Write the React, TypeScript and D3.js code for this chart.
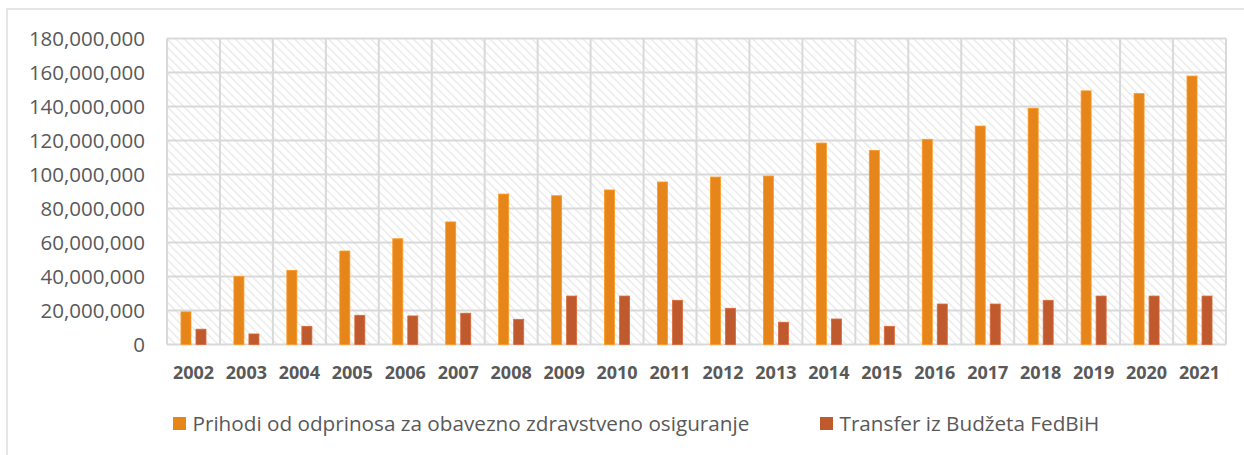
import * as d3 from "d3";
import React from "react";

// values (BAM)
const years = ["2002", "2003", "2004", "2005", "2006", "2007", "2008", "2009", "2010", "2011",
  "2012", "2013", "2014", "2015", "2016", "2017", "2018", "2019", "2020", "2021"];
const prihodi = [19.2, 40.0, 43.6, 55.0, 62.2, 72.1, 88.5, 87.5, 90.9, 95.6,
  98.5, 99.1, 118.5, 114.2, 120.7, 128.5, 139.0, 149.2, 147.6, 157.9].map((v) => v * 1e6);
const transfer = [9.0, 6.2, 10.7, 17.2, 16.8, 18.4, 14.8, 28.5, 28.5, 26.0,
  21.3, 13.1, 15.0, 10.7, 23.8, 23.8, 26.0, 28.5, 28.5, 28.5].map((v) => v * 1e6);
const yTicks = [0, 20e6, 40e6, 60e6, 80e6, 100e6, 120e6, 140e6, 160e6, 180e6];
const seriesNames = ["Prihodi od odprinosa za obavezno zdravstveno osiguranje", "Transfer iz Budžeta FedBiH"];
const seriesColors = ["#E6851A", "#BE5A2E"];

const W = 1244;
const H = 455;
const margin = { top: 38.5, right: 18, bottom: 110.5, left: 167 };
const font = "'Open Sans', sans-serif";
const textColor = "#595959";
const gridColor = "#d9d9d9";

export default function App() {
  const x = d3.scaleBand<string>().domain(years).range([margin.left, W - margin.right]).padding(0);
  const inner = d3.scaleBand<number>().domain([0, 1]).range([0, x.bandwidth()])
    .paddingInner(1 / 3).paddingOuter(0.93);
  const y = d3.scaleLinear().domain([0, 180e6]).range([H - margin.bottom, margin.top]);
  const fmt = d3.format(",");
  const series = [prihodi, transfer];
  const x0 = margin.left;
  const x1 = W - margin.right;
  const y0 = y(0);
  const yTop = y(180e6);

  return (
    <svg width={W} height={H} style={{ position: "absolute", left: 0, top: 0, background: "#fff" }}>
      <defs>
        <pattern id="hatch" width="6" height="6" patternUnits="userSpaceOnUse" patternTransform="rotate(-45)">
          <rect width="6" height="6" fill="#ffffff" />
          <line x1="0" y1="0" x2="0" y2="6" stroke="#e8e8e8" strokeWidth="2.6" />
        </pattern>
      </defs>
      {/* chart frame */}
      <rect x={7} y={9} width={W} height={H} fill="none" stroke={gridColor} strokeWidth={1.3} />

      {/* plot area */}
      <rect x={x0} y={yTop} width={x1 - x0} height={y0 - yTop} fill="url(#hatch)" />
      {yTicks.map((t) => (
        <line key={"h" + t} x1={x0} x2={x1} y1={y(t)} y2={y(t)} stroke={gridColor} strokeWidth={2} />
      ))}
      {years.map((yr) => (
        <line key={"v" + yr} x1={x(yr)!} x2={x(yr)!} y1={yTop} y2={y0} stroke={gridColor} strokeWidth={2} />
      ))}
      <line x1={x1} x2={x1} y1={yTop} y2={y0} stroke={gridColor} strokeWidth={2} />

      {/* bars */}
      {series.map((vals, si) =>
        vals.map((v, i) => (
          <rect
            key={si + "-" + i}
            x={x(years[i])! + inner(si)!}
            y={y(v)}
            width={inner.bandwidth()}
            height={y0 - y(v)}
            fill={seriesColors[si]}
            stroke={d3.color(seriesColors[si])!.brighter(0.4).formatHex()}
            strokeWidth={0.8}
          />
        ))
      )}

      {/* y axis labels */}
      {yTicks.map((t) => (
        <text key={"yl" + t} x={145} y={y(t)} dy="0.35em" textAnchor="end"
          fontFamily={font} fontSize={20.5} fill={textColor}>
          {fmt(t)}
        </text>
      ))}

      {/* x axis labels */}
      {years.map((yr) => (
        <text key={"xl" + yr} x={x(yr)! + x.bandwidth() / 2} y={373} dy="0.35em" textAnchor="middle"
          fontFamily={font} fontSize={18} fontWeight="bold" fill={textColor}>
          {yr}
        </text>
      ))}

      {/* legend */}
      {[173, 820].map((lx, i) => (
        <g key={"lg" + i}>
          <rect x={lx} y={417} width={13} height={13} fill={seriesColors[i]} />
          <text x={lx + 19.5} y={423.5} dy="0.35em" fontFamily={font} fontSize={20.7} fill={textColor}>
            {seriesNames[i]}
          </text>
        </g>
      ))}
    </svg>
  );
}
